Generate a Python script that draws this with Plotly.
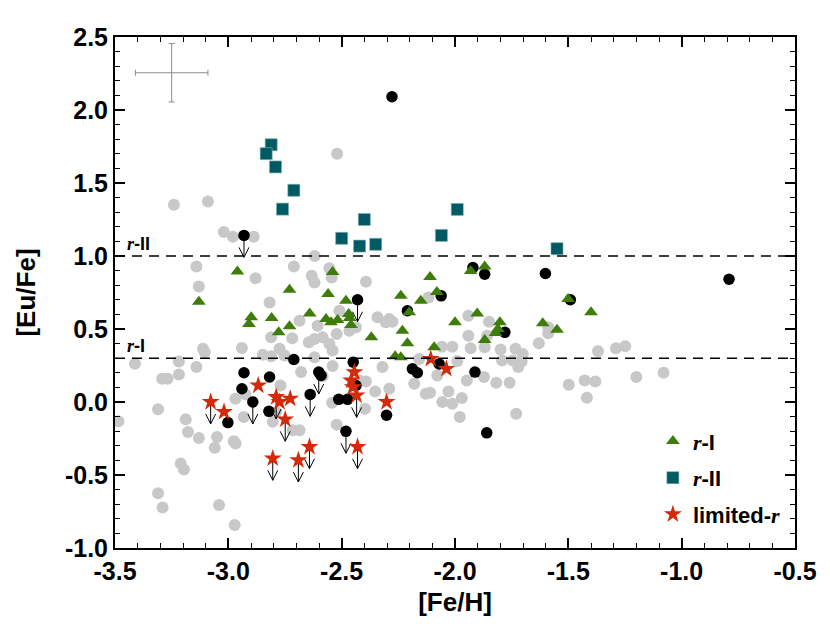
import plotly.graph_objects as go

# typical uncertainty shown top-left
err_feh = [-3.25]
err_eufe = [2.255]
err_dfeh = [0.16]
err_deufe = [0.20]

# comparison sample (grey)
grey_feh = [-2.520, -3.240, -3.090, -3.020, -2.980, -2.888, -2.619, -3.141, -2.711, -2.554,
            -3.130, -2.880, -2.632, -2.620, -2.544, -2.393, -2.818, -2.510, -2.686, -2.606,
            -2.342, -2.290, -2.276, -2.522, -2.466, -2.811, -2.718, -2.645, -2.620, -2.584,
            -2.554, -2.540, -2.774, -2.752, -2.848, -2.811, -2.620, -2.940, -3.112, -3.104,
            -3.218, -3.141, -3.412, -3.292, -3.268, -3.218, -3.310, -3.188, -3.178, -3.130,
            -3.050, -2.976, -2.969, -2.924, -2.932, -2.770, -2.679, -2.584, -2.540, -2.542,
            -2.522, -2.397, -2.422, -2.393, -2.352, -2.290, -2.320, -2.180, -2.110, -2.056,
            -2.158, -2.078, -2.789, -2.804, -2.716, -2.686, -3.485, -3.060, -2.968, -3.210,
            -3.196, -3.310, -3.290, -3.041, -2.972, -1.941, -1.850, -1.941, -1.858, -1.931,
            -1.869, -2.012, -2.058, -1.799, -1.733, -1.701, -1.792, -1.745, -1.706, -1.721,
            -1.630, -1.589, -1.589, -1.369, -1.290, -1.249, -1.200, -1.080, -2.117, -1.990,
            -2.029, -2.012, -1.970, -1.979, -1.948, -1.872, -1.818, -1.759, -1.730, -1.498,
            -1.428, -1.381, -1.418, -2.437, -2.305, -2.129]
grey_eufe = [1.701, 1.351, 1.373, 1.164, 1.132, 1.132, 1.000, 0.928, 0.928, 0.916,
             0.791, 0.848, 0.864, 0.819, 0.853, 0.823, 0.682, 0.625, 0.557, 0.523,
             0.580, 0.568, 0.550, 0.466, 0.488, 0.443, 0.437, 0.409, 0.432, 0.443,
             0.398, 0.352, 0.364, 0.318, 0.323, 0.314, 0.307, 0.370, 0.364, 0.341,
             0.277, 0.239, 0.262, 0.159, 0.159, 0.188, -0.050, -0.119, -0.205, -0.246,
             -0.239, -0.269, 0.023, 0.052, -0.102, 0.113, 0.205, 0.177, 0.246, -0.005,
             -0.155, -0.046, 0.147, 0.141, 0.072, 0.091, 0.239, 0.125, 0.063, 0.000,
             0.295, 0.181, -0.068, -0.136, -0.194, -0.194, -0.132, -0.314, -0.284, -0.421,
             -0.462, -0.625, -0.723, -0.705, -0.842, 0.591, 0.550, 0.454, 0.454, 0.368,
             0.375, 0.379, 0.379, 0.359, 0.364, 0.329, 0.284, 0.284, 0.277, 0.239,
             0.402, 0.512, 0.471, 0.348, 0.368, 0.382, 0.171, 0.200, 0.716, 0.280,
             0.072, -0.012, 0.027, -0.102, 0.147, 0.171, 0.132, 0.132, -0.080, 0.118,
             0.147, 0.141, 0.029, 0.512, 0.546, 0.057]

# non-enhanced stars of this work (black), some are upper limits
black_feh = [-2.278, -2.931, -1.921, -1.869, -1.601, -0.791, -2.061, -1.491, -2.430, -2.210,
             -1.780, -2.711, -2.449, -2.931, -2.818, -2.601, -2.591, -2.940, -2.892, -2.821,
             -3.002, -2.639, -2.513, -2.474, -2.437, -2.302, -2.481, -2.188, -2.166, -2.070,
             -1.912, -1.860]
black_eufe = [2.091, 1.141, 0.921, 0.875, 0.880, 0.841, 0.727, 0.700, 0.700, 0.625,
              0.477, 0.291, 0.273, 0.200, 0.171, 0.205, 0.182, 0.091, 0.000, -0.064,
              -0.141, 0.052, 0.018, 0.018, 0.113, -0.091, -0.201, 0.227, 0.200, 0.261,
              0.205, -0.211]
black_upper = [False, True, False, False, False, False, False, False, True, False,
               False, False, False, False, False, True, False, False, True, False,
               False, True, False, False, False, False, True, False, False, False,
               False, False]

# r-I stars
rI_feh = [-2.960, -3.130, -2.899, -2.909, -2.809, -2.730, -2.778, -2.730, -2.641, -2.540,
          -2.560, -2.569, -2.547, -2.518, -2.481, -2.469, -2.465, -2.459, -2.369, -2.239,
          -2.202, -2.232, -2.210, -2.264, -2.239, -2.110, -2.151, -2.080, -2.092, -1.869,
          -1.931, -1.501, -1.400, -1.902, -2.000, -1.802, -1.811, -1.821, -1.613, -1.550,
          -1.869]
rI_eufe = [0.894, 0.686, 0.580, 0.534, 0.575, 0.768, 0.477, 0.518, 0.607, 0.891,
           0.739, 0.568, 0.546, 0.561, 0.693, 0.602, 0.575, 0.527, 0.443, 0.727,
           0.614, 0.488, 0.402, 0.314, 0.307, 0.857, 0.693, 0.754, 0.375, 0.928,
           0.898, 0.705, 0.614, 0.607, 0.546, 0.546, 0.500, 0.473, 0.539, 0.495,
           0.425]

# r-II stars
rII_feh = [-2.811, -2.833, -2.792, -2.711, -2.761, -2.400, -2.500, -2.421, -2.350, -2.060,
           -1.990, -1.550]
rII_eufe = [1.762, 1.701, 1.610, 1.450, 1.321, 1.250, 1.121, 1.068, 1.080, 1.141,
            1.319, 1.050]

# limited-r stars
lim_feh = [-3.078, -3.019, -2.868, -2.789, -2.774, -2.727, -2.749, -2.444, -2.458, -2.451,
           -2.434, -2.302, -2.107, -2.038, -2.804, -2.691, -2.642, -2.430]
lim_eufe = [0.000, -0.068, 0.113, 0.034, 0.000, 0.023, -0.119, 0.205, 0.147, 0.102,
            0.045, 0.000, 0.295, 0.227, -0.386, -0.398, -0.307, -0.307]
lim_upper = [True, False, False, True, False, False, True, False, False, False,
             True, False, False, False, True, True, True, True]

# r-process class boundaries
class_cuts = [0.3, 1.0]
class_names = ['I', 'II']

x_ticks = [-3.5, -3.0, -2.5, -2.0, -1.5, -1.0, -0.5]
x_ticklabels = ['-3.5', '-3.0', '-2.5', '-2.0', '-1.5', '-1.0', '-0.5']
y_ticks = [-1.0, -0.5, 0.0, 0.5, 1.0, 1.5, 2.0, 2.5]
y_ticklabels = ['-1.0', '-0.5', '0.0', '0.5', '1.0', '1.5', '2.0', '2.5']

R_ITAL = '<span style="font-family:\'Liberation Serif\'"><i>r</i></span>'


def limit_arrows(xs, ys, flags, length=0.15, hw=0.022, hh=0.068):
    ax, ay = [], []
    for x, y, f in zip(xs, ys, flags):
        if not f:
            continue
        tip = y - length
        ax += [x, x, None, x - hw, x, x + hw, None]
        ay += [y, tip, None, tip + hh, tip, tip + hh, None]
    return ax, ay


fig = go.Figure()

fig.add_trace(go.Scatter(x=grey_feh, y=grey_eufe, mode='markers', showlegend=False,
                         marker=dict(symbol='circle', size=12, color='#c8c8c8')))

ax1, ay1 = limit_arrows(black_feh, black_eufe, black_upper)
ax2, ay2 = limit_arrows(lim_feh, lim_eufe, lim_upper)
fig.add_trace(go.Scatter(x=ax1 + ax2, y=ay1 + ay2, mode='lines', showlegend=False,
                         line=dict(color='black', width=1), hoverinfo='skip'))

fig.add_trace(go.Scatter(x=black_feh, y=black_eufe, mode='markers', showlegend=False,
                         marker=dict(symbol='circle', size=11.5, color='black')))

fig.add_trace(go.Scatter(x=rI_feh, y=rI_eufe, mode='markers', name=R_ITAL + '-I',
                         legendgroup='a',
                         marker=dict(symbol='triangle-up', size=12, color='#3e7d0a')))
fig.add_trace(go.Scatter(x=rII_feh, y=rII_eufe, mode='markers', name=R_ITAL + '-II',
                         legendgroup='b',
                         marker=dict(symbol='square', size=12, color='#005a64',
                                     line=dict(color='#7fa9ad', width=0.6))))
fig.add_trace(go.Scatter(x=lim_feh, y=lim_eufe, mode='markers', name='limited-' + R_ITAL,
                         legendgroup='c',
                         marker=dict(symbol='star', size=13.5, color='#d42a0a')))

fig.add_trace(go.Scatter(x=err_feh, y=err_eufe, mode='markers', showlegend=False,
                         marker=dict(size=1, color='rgba(0,0,0,0)'),
                         error_x=dict(type='data', array=err_dfeh, color='#8c8c8c',
                                      thickness=1, width=3),
                         error_y=dict(type='data', array=err_deufe, color='#8c8c8c',
                                      thickness=1, width=3)))

for cut, nm in zip(class_cuts, class_names):
    fig.add_hline(y=cut, line=dict(color='black', width=1.5, dash='10px,7px'))
    fig.add_annotation(x=-3.455, y=cut, xanchor='left', yanchor='bottom', yshift=0,
                       text=R_ITAL + '-' + nm, showarrow=False,
                       font=dict(size=18, weight='bold', color='black'))

axis_common = dict(showline=True, linewidth=2, linecolor='black', mirror='ticks',
                   ticks='inside', ticklen=10, tickwidth=1.5, tickcolor='black',
                   showgrid=False, zeroline=False,
                   tickfont=dict(size=25, weight='bold', color='black'))

fig.update_xaxes(range=[-3.5, -0.5], tickmode='array', tickvals=x_ticks,
                 ticktext=x_ticklabels,
                 minor=dict(dtick=0.1, ticks='inside', ticklen=5, tickwidth=1.2,
                            tickcolor='black', showgrid=False),
                 title=dict(text='[Fe/H]', font=dict(size=26, weight='bold'), standoff=9),
                 **axis_common)
fig.update_yaxes(range=[-1.0, 2.5], tickmode='array', tickvals=y_ticks,
                 ticktext=y_ticklabels,
                 minor=dict(dtick=0.1, ticks='inside', ticklen=5, tickwidth=1.2,
                            tickcolor='black', showgrid=False),
                 title=dict(text='[Eu/Fe]', font=dict(size=26, weight='bold'), standoff=22),
                 **axis_common)

fig.update_layout(width=830, height=624, margin=dict(l=115, r=35, t=37, b=74),
                  plot_bgcolor='white', paper_bgcolor='white',
                  font=dict(family='Liberation Sans', color='black'),
                  legend=dict(x=0.791, y=0.25, xanchor='left', yanchor='top',
                              bgcolor='rgba(0,0,0,0)', borderwidth=0,
                              tracegroupgap=5,
                              font=dict(size=22, weight='bold', color='black')))

fig.write_html("out.html", config={'displayModeBar': False},
               post_script="document.body.style.margin='0px';")
